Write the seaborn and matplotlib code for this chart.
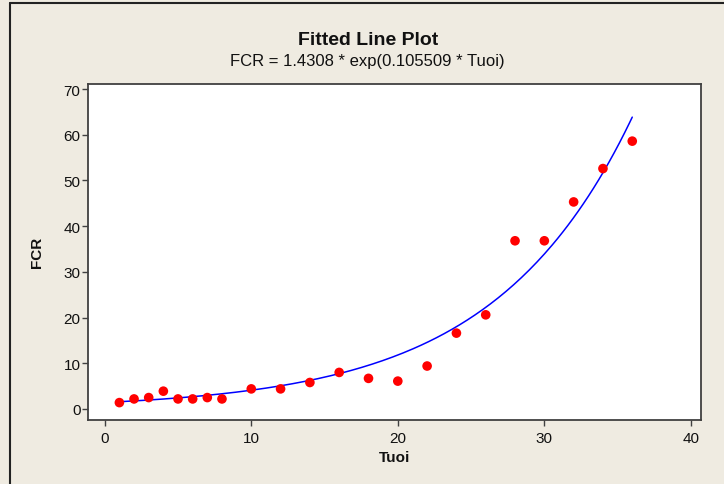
import numpy as np
import pandas as pd
import matplotlib
matplotlib.use("Agg")
import matplotlib.pyplot as plt
from matplotlib.lines import Line2D
import seaborn as sns

tuoi = [1, 2, 3, 4, 5, 6, 7, 8, 10, 12, 14, 16, 18, 20, 22, 24, 26, 28, 30, 32, 34, 36]
fcr = [1.4, 2.2, 2.5, 3.9, 2.2, 2.2, 2.5, 2.2, 4.4, 4.4, 5.8, 8.0, 6.7, 6.1,
       9.4, 16.6, 20.6, 36.8, 36.8, 45.3, 52.6, 58.6]

# fitted model shown in the subtitle
coef_a = 1.4308
coef_b = 0.105509

x_ticks = [0, 10, 20, 30, 40]
y_ticks = [0, 10, 20, 30, 40, 50, 60, 70]

bg = "#efebe1"
edge = "#404040"

sns.set_theme(style="white")
plt.rcParams["font.family"] = ["Liberation Sans", "DejaVu Sans"]

df = pd.DataFrame({"Tuoi": tuoi, "FCR": fcr})
x_fit = np.linspace(min(tuoi), max(tuoi), 200)
fit_df = pd.DataFrame({"Tuoi": x_fit, "FCR": coef_a * np.exp(coef_b * x_fit)})

fig = plt.figure(figsize=(7.24, 4.85), dpi=100, facecolor=bg)
ax = fig.add_axes([0.122, 0.1326, 0.846, 0.6928])
ax.set_facecolor("white")

sns.lineplot(data=fit_df, x="Tuoi", y="FCR", ax=ax, color="#0000ff", linewidth=1.1)
sns.scatterplot(data=df, x="Tuoi", y="FCR", ax=ax, color="#ff0000", s=48,
                edgecolor="none", zorder=3)

ax.set_xlim(-1.12, 40.68)
ax.set_ylim(-2.34, 71.17)
ax.set_xticks(x_ticks)
ax.set_yticks(y_ticks)

for sp in ax.spines.values():
    sp.set_color(edge)
    sp.set_linewidth(1.3)

ax.tick_params(axis="both", which="both", direction="out", length=4.5, width=1,
               color=edge, labelsize=11, labelcolor="#111111")
ax.tick_params(axis="x", bottom=True, pad=3.5)
ax.tick_params(axis="y", left=True, pad=1.2)

ax.set_xlabel("Tuoi", fontsize=11, fontweight="bold", color="#111111", labelpad=4)
ax.set_ylabel("FCR", fontsize=11, fontweight="bold", color="#111111", labelpad=14)

fig.text(0.508, 1 - 45 / 485, "Fitted Line Plot", ha="center", va="baseline",
         fontsize=14, fontweight="bold", color="#111111")
fig.text(0.508, 1 - 66 / 485, "FCR = 1.4308 * exp(0.105509 * Tuoi)", ha="center",
         va="baseline", fontsize=12, color="#111111")

# window frame edges (top and left)
fig.add_artist(Line2D([10 / 724, 1], [1 - 3.5 / 485] * 2, transform=fig.transFigure,
                      color="#222222", linewidth=1.5))
fig.add_artist(Line2D([10 / 724] * 2, [0, 1 - 3.5 / 485], transform=fig.transFigure,
                      color="#222222", linewidth=1.5))

fig.savefig("out.png", dpi=100, facecolor=bg)
